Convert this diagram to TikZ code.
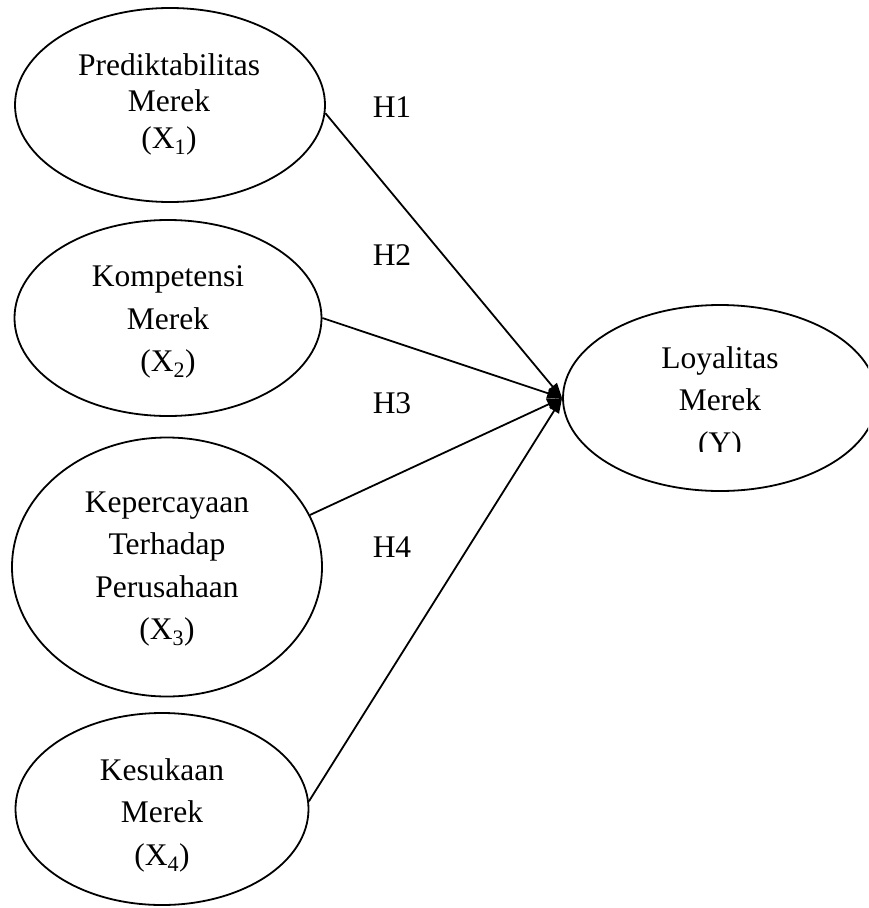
\documentclass[tikz,border=0pt]{standalone}
\usepackage{fontspec}
\setmainfont{Liberation Serif}
\usetikzlibrary{shapes.geometric,arrows.meta}
\begin{document}
\begin{tikzpicture}[x=1pt,y=-1pt,
  latent/.style={ellipse, draw, line width=1.8pt, inner sep=0pt},
  hlabel/.style={inner sep=0pt, align=center, font=\fontsize{31.5}{42.5}\selectfont},
  conn/.style={line width=1.8pt, -{Triangle[length=15pt,width=11pt]}}
]
\clip (0,0) rectangle (868,908);
\node[latent, minimum width=310pt, minimum height=194pt] (e1) at (170,105) {};
\node[latent, minimum width=307pt, minimum height=196pt] (e2) at (168,318) {};
\node[latent, minimum width=310pt, minimum height=259pt] (e3) at (167,567) {};
\node[latent, minimum width=293pt, minimum height=192pt] (e4) at (162,809) {};
\node[latent, minimum width=314pt, minimum height=186pt] (y) at (720,398) {};
\node[hlabel, font=\fontsize{31.5}{36.5}\selectfont] (t1) at (169,104)
  {Prediktabilitas\\Merek\\(X\textsubscript{1})};
\node[hlabel] (t2) at (168,322) {Kompetensi\\Merek\\(X\textsubscript{2})};
\node[hlabel] (t3) at (167,569) {Kepercayaan\\Terhadap\\Perusahaan\\(X\textsubscript{3})};
\node[hlabel] (t4) at (162,815) {Kesukaan\\Merek\\(X\textsubscript{4})};
\begin{scope}
  \clip (560,300) rectangle (880,451);
  \node[hlabel] (ty) at (720,403) {Loyalitas\\Merek\\(Y)};
\end{scope}
\node[hlabel] (h1) at (392,107) {H1};
\node[hlabel] (h2) at (392,255) {H2};
\node[hlabel] (h3) at (392,403) {H3};
\node[hlabel] (h4) at (392,547) {H4};
\draw[conn] (e1.-3) -- (y.west);
\draw[conn] (e2.east) -- (y.west);
\draw[conn] (e3.20) -- (y.west);
\draw[conn] (e4.3) -- (y.west);
\end{tikzpicture}
\end{document}
